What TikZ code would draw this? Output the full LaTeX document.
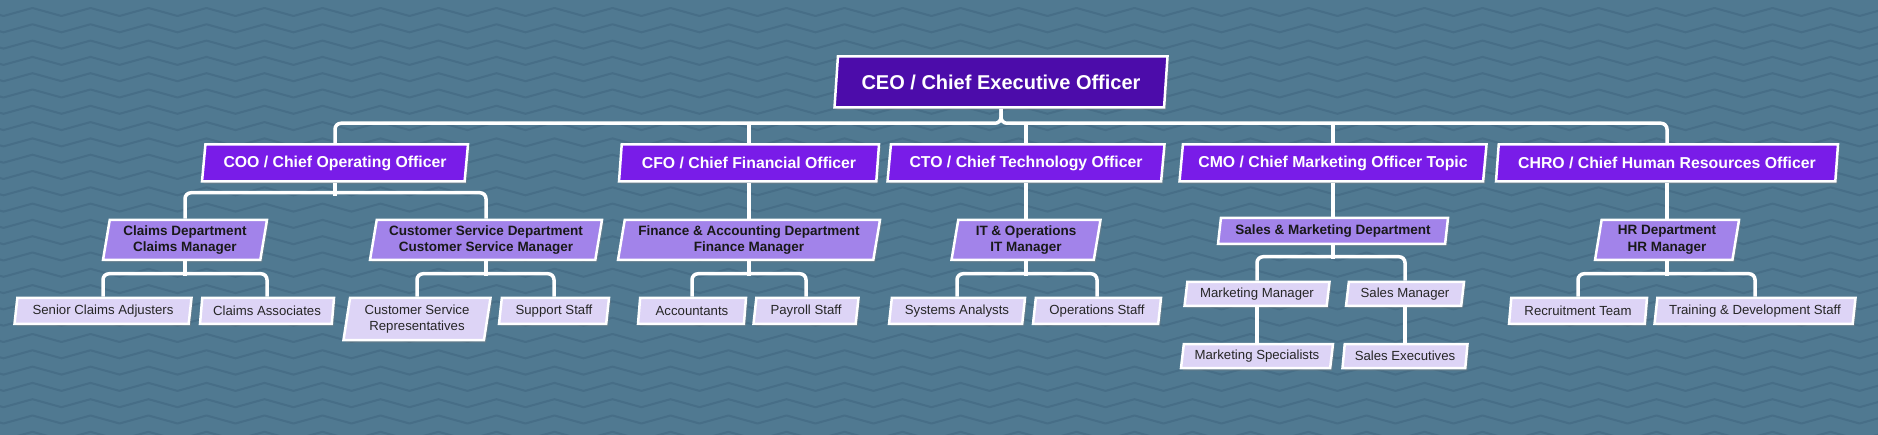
\documentclass[tikz,border=0pt]{standalone}
\usepackage{fontspec}
\setmainfont{Liberation Sans}
\usetikzlibrary{shapes.geometric,shadows,decorations.pathmorphing}
\definecolor{bgblue}{RGB}{80,121,145}
\definecolor{wave}{RGB}{71,110,135}
\definecolor{ceopurple}{RGB}{76,12,170}
\definecolor{execpurple}{RGB}{121,28,232}
\definecolor{deptpurple}{RGB}{162,131,234}
\definecolor{staffpurple}{RGB}{221,212,246}

\begin{document}
\begin{tikzpicture}[x=1pt,y=-1pt,
    box/.style={trapezium, trapezium left angle=77, trapezium right angle=103,
      trapezium stretches body, draw=white, line width=2.5pt, inner sep=0pt, align=center,
      drop shadow={shadow xshift=2pt, shadow yshift=-2.5pt, opacity=0.35}},
    ceobox/.style={box, fill=ceopurple, text=white, font=\fontsize{20}{24}\selectfont\bfseries, minimum height=51pt},
    execbox/.style={box, fill=execpurple, text=white, font=\fontsize{15.8}{19}\selectfont\bfseries, minimum height=37pt},
    deptbox/.style={box, fill=deptpurple, text=black!90, font=\fontsize{13.5}{16.5}\selectfont\bfseries, minimum height=40pt},
    staffbox/.style={box, fill=staffpurple, text=black!85, font=\fontsize{13.2}{16}\selectfont, minimum height=26pt},
    link/.style={draw=white, line width=3.5pt, rounded corners=6pt}]
  \useasboundingbox (0,0) rectangle (1878,435);
  % background with waves
  \fill[bgblue] (0,0) rectangle (1878,435);
  \begin{scope}
    \clip (0,0) rectangle (1878,435);
    \foreach \k in {0,...,27}
      \draw[wave, line width=2pt, line join=round, decorate, decoration={zigzag, segment length=58pt, amplitude=4pt}]
        (-40,{12+16.3*\k}) -- (1920,{12+16.3*\k});
  \end{scope}

  % top
  \node[ceobox, minimum width=333pt] (ceo) at (1001,82) {CEO / Chief Executive Officer};

  % chiefs
  \node[execbox, minimum width=266pt] (coo) at (335,163) {COO / Chief Operating Officer};
  \node[execbox, minimum width=260pt] (cfo) at (749,163) {CFO / Chief Financial Officer};
  \node[execbox, minimum width=277pt] (cto) at (1026,163) {CTO / Chief Technology Officer};
  \node[execbox, minimum width=307pt] (cmo) at (1333,163) {CMO / Chief Marketing Officer Topic};
  \node[execbox, minimum width=342pt] (chro) at (1667,163) {CHRO / Chief Human Resources Officer};

  % departments
  \node[deptbox, minimum width=164pt] (claims) at (185,240) {Claims Department\\Claims Manager};
  \node[deptbox, minimum width=232pt] (csd) at (486,240) {Customer Service Department\\Customer Service Manager};
  \node[deptbox, minimum width=262pt] (fin) at (749,240) {Finance \& Accounting Department\\Finance Manager};
  \node[deptbox, minimum width=149pt] (itops) at (1026,240) {IT \& Operations\\IT Manager};
  \node[deptbox, minimum width=230pt, minimum height=26pt] (sales) at (1333,231) {Sales \& Marketing Department};
  \node[deptbox, minimum width=144pt] (hr) at (1667,240) {HR Department\\HR Manager};

  % staff
  \node[staffbox, minimum width=177pt] (sca) at (103,311) {Senior Claims Adjusters};
  \node[staffbox, minimum width=134pt] (ca) at (267,311) {Claims Associates};
  \node[staffbox, minimum width=147pt, minimum height=42pt] (csr) at (417,319) {Customer Service\\Representatives};
  \node[staffbox, minimum width=110pt] (ss) at (554,311) {Support Staff};
  \node[staffbox, minimum width=108pt] (acc) at (692,311) {Accountants};
  \node[staffbox, minimum width=105pt] (pay) at (806,311) {Payroll Staff};
  \node[staffbox, minimum width=136pt] (sys) at (957,311) {Systems Analysts};
  \node[staffbox, minimum width=128pt] (ops) at (1097,311) {Operations Staff};
  \node[staffbox, minimum width=145pt, minimum height=24pt] (mm) at (1257,294) {Marketing Manager};
  \node[staffbox, minimum width=118pt, minimum height=24pt] (slm) at (1405,294) {Sales Manager};
  \node[staffbox, minimum width=152pt, minimum height=24pt] (msp) at (1257,356) {Marketing Specialists};
  \node[staffbox, minimum width=125pt, minimum height=24pt] (se) at (1405,356) {Sales Executives};
  \node[staffbox, minimum width=138pt] (rec) at (1578,311) {Recruitment Team};
  \node[staffbox, minimum width=201pt] (tds) at (1755,311) {Training \& Development Staff};

  % links
  \draw[link] (coo.center |- coo.north) -- ++(0,-20) -| (ceo.center |- ceo.south);
  \draw[link] (chro.center |- chro.north) -- ++(0,-20) -| (ceo.center |- ceo.south);
  \foreach \n in {cfo,cto,cmo}
    \draw[link] (\n.center |- \n.north) -- ++(0,-20);
  \draw[link] (coo.center |- coo.south) -- ++(0,13);
  \draw[link] (claims.center |- claims.north) -- ++(0,-26) -| (csd.center |- csd.north);
  \foreach \p/\c in {cfo/fin, cto/itops, cmo/sales, chro/hr}
    \draw[link] (\p.center |- \p.south) -- (\c.center |- \c.north);
  \foreach \p/\a/\b in {claims/sca/ca, csd/csr/ss, fin/acc/pay, itops/sys/ops, hr/rec/tds}{
    \draw[link] (\p.center |- \p.south) -- ++(0,15);
    \draw[link] (\a.center |- \a.north) -- ++(0,-23) -| (\b.center |- \b.north);
  }
  \draw[link] (sales.center |- sales.south) -- ++(0,14);
  \draw[link] (mm.center |- mm.north) -- ++(0,-24) -| (slm.center |- slm.north);
  \draw[link] (mm.center |- mm.south) -- (msp.center |- msp.north);
  \draw[link] (slm.center |- slm.south) -- (se.center |- se.north);
\end{tikzpicture}
\end{document}
